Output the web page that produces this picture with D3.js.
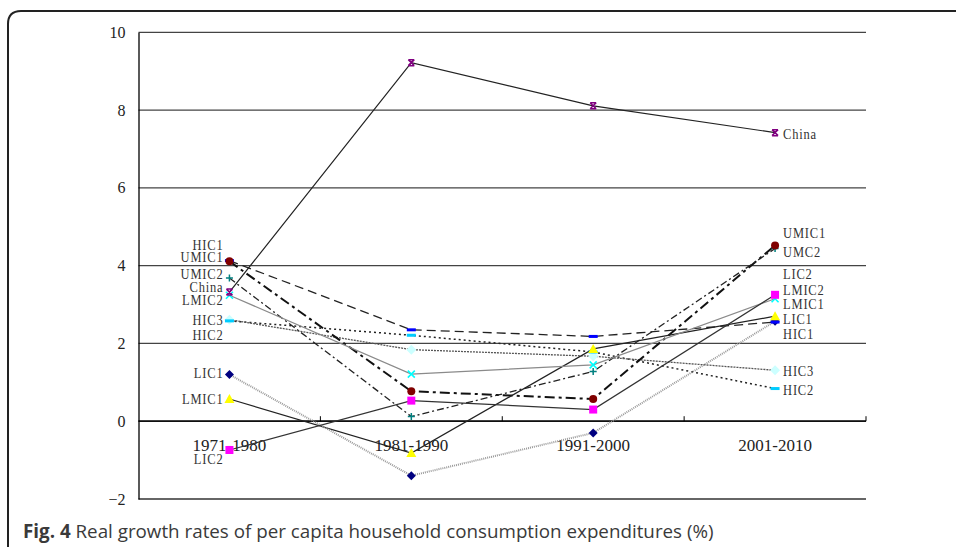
<!DOCTYPE html>
<html>
<head>
<meta charset="utf-8">
<script src="https://cdn.jsdelivr.net/npm/d3@7"></script>
<style>
  html, body { margin: 0; padding: 0; background: #fff; }
  svg { display: block; }
</style>
</head>
<body>
<svg id="chart" width="956" height="547"></svg>
<script>
// ---------------- data ----------------
const categories = ["1971-1980", "1981-1990", "1991-2000", "2001-2010"];
const yTicks = [-2, 0, 2, 4, 6, 8, 10];

const seriesNames = ["China", "HIC1", "HIC2", "HIC3", "UMIC1", "UMIC2", "LMIC1", "LMIC2", "LIC1", "LIC2"];
const china = [3.32, 9.22, 8.11, 7.42];
const hic1  = [4.13, 2.35, 2.18, 2.55];
const hic2  = [2.58, 2.21, 1.78, 0.84];
const hic3  = [2.61, 1.84, 1.67, 1.31];
const umic1 = [4.11, 0.77, 0.57, 4.52];
const umic2 = [3.68, 0.12, 1.28, 4.44];
const lmic1 = [0.57, -0.82, 1.86, 2.70];
const lmic2 = [3.24, 1.21, 1.45, 3.15];
const lic1  = [1.20, -1.40, -0.30, 2.57];
const lic2  = [-0.74, 0.53, 0.30, 3.25];

// end labels (text, value-level where label sits)
const leftLabels  = ["HIC1", "UMIC1", "UMIC2", "China", "LMIC2", "HIC3", "HIC2", "LIC1", "LMIC1", "LIC2"];
const leftLabelAt = [4.53, 4.21, 3.78, 3.46, 3.12, 2.60, 2.21, 1.23, 0.58, -0.97];
const rightLabels  = ["China", "UMIC1", "UMC2", "LIC2", "LMIC2", "LMIC1", "LIC1", "HIC1", "HIC3", "HIC2"];
const rightLabelAt = [7.38, 4.83, 4.35, 3.79, 3.36, 3.00, 2.63, 2.24, 1.30, 0.80];

const captionBold = "Fig. 4";
const captionText = " Real growth rates of per capita household consumption expenditures (%)";

// ---------------- styles ----------------
const valuesByName = { China: china, HIC1: hic1, HIC2: hic2, HIC3: hic3, UMIC1: umic1, UMIC2: umic2,
                       LMIC1: lmic1, LMIC2: lmic2, LIC1: lic1, LIC2: lic2 };
const style = {
  China: { stroke: "#222", width: 1.2, dash: null,        marker: "x6",      color: "#800080" },
  HIC1:  { stroke: "#222", width: 1.3, dash: "9,5",       marker: "dash",    color: "#0000ff" },
  HIC2:  { stroke: "#222", width: 1.5, dash: "2,3",       marker: "dash",    color: "#00ccff" },
  HIC3:  { stroke: "#555", width: 1.3, dash: "2,1",       marker: "diamond", color: "#ccffff" },
  UMIC1: { stroke: "#111", width: 2.0, dash: "10,4,3,4",  marker: "circle",  color: "#800000" },
  UMIC2: { stroke: "#222", width: 1.3, dash: "7,3,2,3",   marker: "plus",    color: "#008080" },
  LMIC1: { stroke: "#222", width: 1.2, dash: null,        marker: "triangle",color: "#ffff00" },
  LMIC2: { stroke: "#8a8a8a", width: 1.2, dash: null,     marker: "x",       color: "#00ffff" },
  LIC1:  { stroke: "#999", width: 2.0, dash: "1,1",       marker: "diamondS",color: "#000080" },
  LIC2:  { stroke: "#333", width: 1.2, dash: null,        marker: "square",  color: "#ff00ff" }
};

// ---------------- layout ----------------
const svg = d3.select("#chart");
const plot = { left: 138.5, right: 866, top: 32.3, bottom: 499 };

const x = d3.scaleBand().domain(categories).range([plot.left, plot.right]);
const y = d3.scaleLinear().domain([-2, 10]).range([plot.bottom, plot.top]);
const cx = c => x(c) + x.bandwidth() / 2;

// frame
svg.append("path")
  .attr("d", "M8,547 V24 Q8,11 21,11 H956")
  .attr("fill", "none").attr("stroke", "#222").attr("stroke-width", 2);

// grid lines
svg.append("g").selectAll("line").data(yTicks).join("line")
  .attr("x1", plot.left).attr("x2", plot.right)
  .attr("y1", d => y(d)).attr("y2", d => y(d))
  .attr("stroke", d => d === 0 ? "#000" : (d === -2 ? "#666" : "#444"))
  .attr("stroke-width", d => d === -2 ? 2 : 1.3);

// y axis (domain line from d3 axis, labels drawn as serif text)
const yAxis = svg.append("g").attr("transform", `translate(${plot.left},0)`)
  .call(d3.axisLeft(y).tickValues(yTicks).tickSize(0).tickFormat(""));
yAxis.select(".domain").attr("stroke", "#000").attr("stroke-width", 1.3);
const fmt = d3.format("d");
svg.append("g").selectAll("text").data(yTicks).join("text")
  .attr("x", plot.left - 13).attr("y", d => y(d)).attr("dy", "0.35em")
  .attr("text-anchor", "end")
  .attr("font-family", "Liberation Serif").attr("font-size", 16).attr("fill", "#222")
  .text(d => fmt(d));

// x axis at zero
const xAxis = svg.append("g").attr("transform", `translate(0,${y(0)})`);
xAxis.append("line").attr("x1", plot.left).attr("x2", plot.right).attr("stroke", "#000").attr("stroke-width", 1.3);
xAxis.selectAll("line.tick").data(categories).join("line").attr("class", "tick")
  .attr("x1", d => x(d) + x.bandwidth()).attr("x2", d => x(d) + x.bandwidth())
  .attr("y1", 0).attr("y2", -5).attr("stroke", "#000").attr("stroke-width", 1);
xAxis.selectAll("text").data(categories).join("text")
  .attr("x", d => cx(d)).attr("y", 30)
  .attr("text-anchor", "middle")
  .attr("font-family", "Liberation Serif").attr("font-size", 17).attr("fill", "#222")
  .text(d => d);

// lines
const line = d3.line().x((d, i) => cx(categories[i])).y(d => y(d));
svg.append("g").selectAll("path").data(seriesNames).join("path")
  .attr("d", n => line(valuesByName[n]))
  .attr("fill", "none")
  .attr("stroke", n => style[n].stroke)
  .attr("stroke-width", n => style[n].width)
  .attr("stroke-dasharray", n => style[n].dash);

// markers
function drawMarker(g, type, color) {
  switch (type) {
    case "circle": g.append("circle").attr("r", 4).attr("fill", color); break;
    case "square": g.append("rect").attr("x", -4).attr("y", -4).attr("width", 8).attr("height", 8).attr("fill", color); break;
    case "triangle": g.append("path").attr("d", "M0,-5 L5,4 L-5,4 Z").attr("fill", color); break;
    case "diamond": g.append("path").attr("d", "M0,-5 L5,0 L0,5 L-5,0 Z").attr("fill", color); break;
    case "diamondS": g.append("path").attr("d", "M0,-4.5 L4.5,0 L0,4.5 L-4.5,0 Z").attr("fill", color); break;
    case "dash": g.append("rect").attr("x", -4.5).attr("y", -1.5).attr("width", 9).attr("height", 3).attr("fill", color); break;
    case "plus": g.append("path").attr("d", "M-3.5,0 H3.5 M0,-3.5 V3.5").attr("stroke", color).attr("stroke-width", 1.5); break;
    case "x": g.append("path").attr("d", "M-3.5,-3.5 L3.5,3.5 M3.5,-3.5 L-3.5,3.5").attr("stroke", color).attr("stroke-width", 1.6); break;
    case "x6":
      g.append("path").attr("d", "M-3,-3 L3,3 M3,-3 L-3,3 M-3,-3 H3 M-3,3 H3").attr("stroke", color).attr("stroke-width", 1.5); break;
  }
}
const markerOrder = ["HIC3", "HIC2", "LIC1", "HIC1", "LMIC2", "UMIC2", "LMIC1", "LIC2", "UMIC1", "China"];
markerOrder.forEach(n => {
  valuesByName[n].forEach((v, i) => {
    const g = svg.append("g").attr("transform", `translate(${cx(categories[i])},${y(v)})`);
    drawMarker(g, style[n].marker, style[n].color);
  });
});

// labels
function addLabel(text, xpos, v, anchor) {
  svg.append("text")
    .attr("transform", `translate(${xpos},${y(v)}) scale(1,1.12)`)
    .attr("dy", "0.35em")
    .attr("text-anchor", anchor)
    .attr("font-family", "Liberation Serif").attr("font-size", 12.5)
    .attr("letter-spacing", 0.8).attr("fill", "#333")
    .text(text);
}
leftLabels.forEach((t, i) => addLabel(t, cx(categories[0]) - 6, leftLabelAt[i], "end"));
rightLabels.forEach((t, i) => addLabel(t, cx(categories[3]) + 8, rightLabelAt[i], "start"));

// caption
const cap = svg.append("text").attr("x", 23).attr("y", 538)
  .attr("font-family", "Open Sans").attr("font-size", 18.8).attr("fill", "#3a3a3a");
cap.append("tspan").attr("font-weight", "bold").text(captionBold);
cap.append("tspan").text(captionText);
</script>
</body>
</html>
